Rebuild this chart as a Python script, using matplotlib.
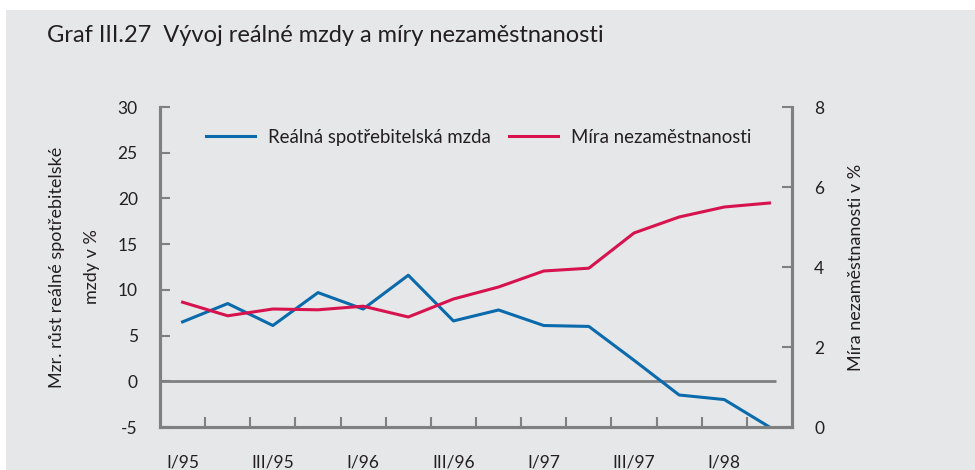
import matplotlib
matplotlib.use("Agg")
import matplotlib.pyplot as plt
import numpy as np

plt.rcParams['font.family'] = ['Lato', 'DejaVu Sans']
plt.rcParams['axes.unicode_minus'] = False

quarters = ["I/95", "II/95", "III/95", "IV/95", "I/96", "II/96", "III/96", "IV/96",
            "I/97", "II/97", "III/97", "IV/97", "I/98", "II/98"]
wage_growth = [6.5, 8.5, 6.1, 9.7, 7.9, 11.6, 6.6, 7.8, 6.1, 6.0, 2.3, -1.5, -2.0, -5.0]
unemployment = [3.12, 2.78, 2.95, 2.93, 3.02, 2.75, 3.2, 3.5, 3.9, 3.97, 4.85, 5.25, 5.5, 5.6]
tick_labels = ["I/95", "III/95", "I/96", "III/96", "I/97", "III/97", "I/98"]

title = "Graf III.27  Vývoj reálné mzdy a míry nezaměstnanosti"
left_label = "Mzr. růst reálné spotřebitelské\nmzdy v %"
right_label = "Míra nezaměstnanosti v %"
series_names = ["Reálná spotřebitelská mzda", "Míra nezaměstnanosti"]

BG = "#e6e7e9"
AX = "#808080"
BLUE = "#0a6aac"
RED = "#d6134f"
TXT = "#231f20"

fig = plt.figure(figsize=(9.75, 4.7), dpi=100, facecolor="white")
panel = fig.add_axes([6/975, 0, 1 - 6/975, 1 - 10/470])
panel.set_facecolor(BG)
panel.set_xticks([]); panel.set_yticks([])
for s in panel.spines.values():
    s.set_visible(False)
panel.set_zorder(-10)

ax = fig.add_axes([160/975, 1 - 427/470, (792 - 160)/975, (427 - 107)/470])
ax.set_facecolor("none")
ax2 = ax.twinx()

n = len(quarters)
x = np.arange(n) + 0.5

ax.hlines(0, 0, n - 0.36, color=AX, lw=2.0, zorder=1)
l1, = ax.plot(x, wage_growth, color=BLUE, lw=2.2, zorder=3)
l2, = ax2.plot(x, unemployment, color=RED, lw=2.2, zorder=3)

ax.set_xlim(0, n)
ax.set_ylim(-5, 30)
ax.set_yticks(np.arange(-5, 31, 5))
ax2.set_ylim(0, 8)
ax2.set_yticks([0, 2, 4, 6, 8])

ax.set_xticks(np.arange(1, n))
ax.set_xticklabels([])
ax.set_xticks(x[::2], minor=True)
ax.set_xticklabels(tick_labels, minor=True)
ax.tick_params(axis='x', which='major', direction='in', length=7, width=1.5, color=AX)
ax.tick_params(axis='x', which='minor', length=0, pad=20, labelsize=12.5, labelcolor=TXT)
ax.tick_params(axis='y', direction='in', length=7, width=1.5, color=AX, labelsize=12.5,
               labelcolor=TXT, pad=16)
ax2.tick_params(axis='y', direction='in', length=7, width=1.5, color=AX, labelsize=12.5,
                labelcolor=TXT, pad=16)

for a in (ax, ax2):
    a.spines['top'].set_visible(False)
    for k in ('left', 'right', 'bottom'):
        a.spines[k].set_color(AX)
        a.spines[k].set_linewidth(2.2)

ax.set_ylabel(left_label, fontsize=13, color=TXT, labelpad=13, linespacing=2.4)
ax2.set_ylabel(right_label, fontsize=13, color=TXT, labelpad=17)

leg = ax.legend([l1, l2], series_names, loc='upper left', bbox_to_anchor=(0.047, 0.985),
                ncol=2, frameon=False, fontsize=13.4, handlelength=2.6, columnspacing=1.0,
                handletextpad=0.7)
for t in leg.get_texts():
    t.set_color(TXT)

fig.text(47/975, 1 - 35/470, title, fontsize=17, color=TXT, va='center', ha='left')

fig.savefig("out.png", dpi=100, facecolor="white")
